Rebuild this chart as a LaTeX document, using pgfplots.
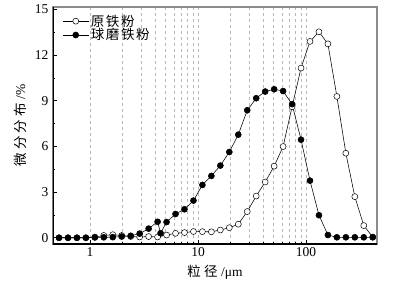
\documentclass[border=0pt]{standalone}
\usepackage{fontspec}
\setmainfont{Liberation Serif}
\newfontfamily\cjk[LetterSpace=12]{Noto Sans CJK SC}
\newfontfamily\cjkl[LetterSpace=25]{Noto Sans CJK SC}
\usepackage{pgfplots}
\pgfplotsset{compat=1.18}
\definecolor{gridc}{HTML}{B8B8B8}
\definecolor{framec}{HTML}{8C8C8C}

\begin{document}
\begin{tikzpicture}
\begin{axis}[
  scale only axis,
  width=324pt, height=237pt,
  xmode=log,
  xmin=0.454, xmax=454,
  ymin=-0.41, ymax=15.15,
  ytick={0,3,6,9,12,15},
  minor y tick num=1,
  xtick={1,10,100},
  xticklabels={1,10,100},
  tick align=inside,
  xtick pos=bottom, ytick pos=left,
  major tick length=4pt, minor tick length=2.5pt,
  tick style={black, line width=0.6pt},
  xmajorgrids, xminorgrids,
  grid style={gridc, dashed, line width=0.45pt},
  major grid style={gridc, dashed, line width=0.45pt},
  minor grid style={gridc, dashed, line width=0.45pt},
  axis line style={framec, line width=1.3pt},
  /pgf/number format/assume math mode=true,
  ticklabel style={font=\fontsize{13.5}{14}\selectfont},
  xticklabel style={yshift=0pt},
  yticklabel style={xshift=-1pt},
  xlabel={{\cjkl 粒径} /μm},
  ylabel={{\cjkl 微分分布} /\%},
  label style={font=\fontsize{13.5}{14}\selectfont},
  xlabel style={at={(axis description cs:0.5,-0.118)}, anchor=center},
  ylabel style={at={(axis description cs:-0.102,0.5)}, anchor=center},
  legend style={draw=none, fill=none, at={(0.02,0.985)}, anchor=north west,
    font=\fontsize{13.5}{14}\selectfont\cjk, row sep=-3pt,
    legend cell align=left},
  legend image code/.code={\draw[mark repeat=2,mark phase=2] plot coordinates {(0cm,0cm) (0.45cm,0cm) (0.9cm,0cm)};},
]
\addplot[black, line width=0.55pt, mark=*, mark size=3pt, mark options={fill=white, line width=0.5pt}] coordinates {
(0.516,0) (0.625,0) (0.756,0) (0.915,0) (1.108,0.05) (1.341,0.15) (1.624,0.2) (1.966,0.15)
(2.380,0.08) (2.881,0.05) (3.488,0.08) (4.222,0.05) (5.112,0.18) (6.188,0.29) (7.491,0.34)
(9.069,0.41) (10.98,0.40) (13.29,0.39) (16.09,0.51) (19.48,0.66) (23.58,0.89) (28.55,1.72)
(34.56,2.74) (41.84,3.66) (50.65,4.70) (61.32,5.99) (74.23,8.6) (89.87,11.14) (108.8,12.89)
(131.7,13.52) (159.4,12.73) (193.0,9.28) (233.7,5.55) (282.9,2.70) (342.5,0.80) (414.6,0.05)
};
\addlegendentry{原铁粉}
\addplot[black, line width=0.55pt, mark=*, mark size=3pt, mark options={fill=black}] coordinates {
(0.516,0) (0.625,0) (0.756,0) (0.915,0) (1.108,0.02) (1.341,0.03) (1.624,0.04) (1.966,0.08)
(2.380,0.13) (2.881,0.27) (3.488,0.6) (4.222,1.05) (4.50,0.3) (5.112,1.03) (6.188,1.56)
(7.491,1.87) (9.069,2.44) (10.98,3.47) (13.29,4.06) (16.09,4.74) (19.48,5.63) (23.58,6.77)
(28.55,8.37) (34.56,9.16) (41.84,9.60) (50.65,9.75) (61.32,9.63) (74.23,8.77) (89.87,6.44)
(108.8,3.75) (131.7,1.48) (159.4,0.18) (193.0,0.03) (233.7,0.03) (282.9,0.03) (342.5,0.03) (414.6,0.03)
};
\addlegendentry{球磨铁粉}
\draw[black, line width=1.5pt] (rel axis cs:0,1) -- (rel axis cs:0,0) -- (rel axis cs:1,0);
\end{axis}
\path (current axis.south west) ++(-53pt,-40pt) coordinate (BL);
\path (current axis.north east) ++(32pt,7pt) coordinate (TR);
\pgfresetboundingbox
\useasboundingbox (BL) rectangle (TR);
\end{tikzpicture}
\end{document}
